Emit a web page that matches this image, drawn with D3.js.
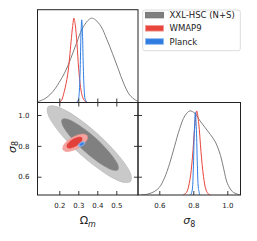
<!DOCTYPE html>
<html>
<head>
<meta charset="utf-8">
<script src="https://cdn.jsdelivr.net/npm/d3@7"></script>
<style>
  body { margin: 0; background: #fff; }
  text { font-family: "DejaVu Sans", sans-serif; fill: #222; }
</style>
</head>
<body>
<div id="chart"></div>
<script>
// 1D marginal posteriors (peak normalised to 1)
var omGray = [[0.086,0.01],[0.12,0.04],[0.15,0.09],[0.18,0.17],[0.2,0.24],[0.23,0.36],[0.26,0.52],[0.29,0.7],[0.32,0.87],[0.35,0.97],[0.37,1.0],[0.39,0.98],[0.42,0.9],[0.45,0.75],[0.48,0.58],[0.51,0.4],[0.54,0.22],[0.57,0.09],[0.6,0.03],[0.614,0.015]];
var omRed = [[0.195,0],[0.21,0.02],[0.226,0.13],[0.244,0.33],[0.262,0.72],[0.27,0.9],[0.277,1.0],[0.284,0.92],[0.293,0.7],[0.302,0.4],[0.312,0.18],[0.322,0.07],[0.335,0.015],[0.35,0]];
var omBlue = [[0.29,0],[0.3,0.03],[0.305,0.12],[0.31,0.4],[0.314,0.8],[0.318,0.98],[0.322,0.82],[0.326,0.45],[0.331,0.15],[0.336,0.04],[0.345,0]];

var s8Gray = [[0.49,0],[0.53,0.01],[0.57,0.04],[0.6,0.09],[0.63,0.2],[0.66,0.37],[0.69,0.58],[0.72,0.79],[0.75,0.94],[0.78,1.0],[0.81,0.97],[0.84,0.88],[0.87,0.8],[0.9,0.72],[0.93,0.63],[0.96,0.47],[0.98,0.3],[1.0,0.14],[1.03,0.04],[1.06,0.01],[1.075,0]];
var s8Red = [[0.74,0],[0.76,0.03],[0.78,0.18],[0.795,0.45],[0.808,0.8],[0.82,1.0],[0.832,0.85],[0.845,0.52],[0.86,0.22],[0.875,0.06],[0.89,0.01],[0.9,0]];
var s8Blue = [[0.785,0],[0.793,0.05],[0.8,0.3],[0.806,0.75],[0.812,0.98],[0.818,0.78],[0.824,0.35],[0.83,0.08],[0.838,0]];

// 2D contours (Omega_m, sigma_8) boundary points
var grayOuter = [[0.575,0.569],[0.541,0.563],[0.478,0.594],[0.398,0.659],[0.311,0.746],[0.231,0.844],[0.171,0.936],[0.139,1.009],[0.140,1.052],[0.175,1.058],[0.237,1.027],[0.318,0.962],[0.404,0.875],[0.484,0.777],[0.545,0.685],[0.577,0.612]];
var grayInner = [[0.508,0.645],[0.486,0.642],[0.444,0.664],[0.390,0.708],[0.332,0.767],[0.278,0.832],[0.237,0.894],[0.215,0.943],[0.215,0.971],[0.238,0.974],[0.279,0.952],[0.333,0.908],[0.392,0.849],[0.445,0.783],[0.486,0.722],[0.509,0.673]];
var redOuter = [[0.347,0.866],[0.347,0.843],[0.329,0.814],[0.299,0.786],[0.265,0.768],[0.236,0.764],[0.220,0.775],[0.221,0.798],[0.238,0.827],[0.268,0.854],[0.302,0.872],[0.331,0.876]];
var redInner = [[0.319,0.851],[0.319,0.837],[0.308,0.819],[0.290,0.801],[0.269,0.789],[0.251,0.785],[0.241,0.791],[0.241,0.805],[0.252,0.823],[0.270,0.841],[0.291,0.853],[0.309,0.857]];
var blueOuter = [[0.335,0.823],[0.333,0.812],[0.322,0.800],[0.308,0.794],[0.300,0.798],[0.301,0.809],[0.312,0.821],[0.326,0.827]];
var blueInner = [[0.328,0.818],[0.327,0.812],[0.321,0.805],[0.313,0.802],[0.308,0.804],[0.309,0.810],[0.315,0.817],[0.323,0.820]];

var omTicks = [0.2, 0.3, 0.4, 0.5];
var s8Ticks = [0.6, 0.8, 1.0];
var legendNames = ["XXL-HSC (N+S)", "WMAP9", "Planck"];

var gray = "#7f7f7f", red = "#e8453c", blue = "#2f7de3";
var legendColors = [gray, red, blue];
var legendEdges = ["#6a6a6a", "#f29a94", "#8db8f0"];

var svg = d3.select("#chart").append("svg")
  .attr("width", 257)
  .attr("height", 241);

// panel edges
var x0 = 37.5, x1 = 138, x2 = 240.5;
var y0 = 9.7, y1 = 102.5, y2 = 195;

var xOm = d3.scaleLinear().domain([0.0853, 0.6142]).range([x0, x1]);
var yS8 = d3.scaleLinear().domain([0.4814, 1.081]).range([y2, y1]);
var xS8 = d3.scaleLinear().domain([0.4747, 1.0776]).range([x1, x2]);
var yTop = d3.scaleLinear().domain([0, 1.1]).range([y1, y0]);
var yBR = d3.scaleLinear().domain([0, 1.1]).range([y2, y1]);

var clipIds = ["clipTL", "clipBL", "clipBR"];
var clipBoxes = [[x0, y0, x1 - x0, y1 - y0], [x0, y1, x1 - x0, y2 - y1], [x1, y1, x2 - x1, y2 - y1]];
var defs = svg.append("defs");
clipIds.forEach(function(id, i) {
  defs.append("clipPath").attr("id", id).append("rect")
    .attr("x", clipBoxes[i][0]).attr("y", clipBoxes[i][1])
    .attr("width", clipBoxes[i][2]).attr("height", clipBoxes[i][3]);
});

// top-left: Omega_m marginal
var lineTL = d3.line().x(d => xOm(d[0])).y(d => yTop(d[1])).curve(d3.curveCatmullRom.alpha(0.5));
var gTL = svg.append("g").attr("clip-path", "url(#clipTL)");
[[omGray, gray], [omRed, red], [omBlue, blue]].forEach(function(s) {
  gTL.append("path").attr("d", lineTL(s[0]))
    .attr("fill", "none").attr("stroke", s[1]).attr("stroke-width", 1);
});

// bottom-left: 2D contours
var contour = d3.line().x(d => xOm(d[0])).y(d => yS8(d[1])).curve(d3.curveCatmullRomClosed);
var gBL = svg.append("g").attr("clip-path", "url(#clipBL)");
[[grayOuter, "#c9c9c9", "#b3b3b3"], [grayInner, "#808080", "#808080"],
 [redOuter, "#f3a4a0", "#f08e88"], [redInner, "#e2403a", "#e2403a"],
 [blueOuter, "#94bbef", "#7eaaea"], [blueInner, "#3b7fe0", "#3b7fe0"]].forEach(function(c) {
  gBL.append("path").attr("d", contour(c[0]))
    .attr("fill", c[1]).attr("stroke", c[2]).attr("stroke-width", 0.6);
});

// bottom-right: sigma_8 marginal
var lineBR = d3.line().x(d => xS8(d[0])).y(d => yBR(d[1])).curve(d3.curveCatmullRom.alpha(0.5));
var gBR = svg.append("g").attr("clip-path", "url(#clipBR)");
[[s8Gray, gray], [s8Red, red], [s8Blue, blue]].forEach(function(s) {
  gBR.append("path").attr("d", lineBR(s[0]))
    .attr("fill", "none").attr("stroke", s[1]).attr("stroke-width", 1);
});

// axes, ticks pointing inward
function ticksIn(axis) { return axis.tickSizeInner(-4).tickSizeOuter(0); }

svg.append("g").attr("transform", `translate(0,${y1})`)
  .call(ticksIn(d3.axisBottom(xOm).tickValues(omTicks).tickFormat("")));
svg.append("g").attr("transform", `translate(0,${y1})`)
  .call(ticksIn(d3.axisTop(xOm).tickValues(omTicks).tickFormat("")));
svg.append("g").attr("transform", `translate(0,${y2})`)
  .call(ticksIn(d3.axisBottom(xOm).tickValues(omTicks).tickFormat(d3.format(".1f")).tickPadding(8)));
svg.append("g").attr("transform", `translate(${x0},0)`)
  .call(ticksIn(d3.axisLeft(yS8).tickValues(s8Ticks).tickFormat(d3.format(".1f")).tickPadding(8)));
svg.append("g").attr("transform", `translate(${x1},0)`)
  .call(ticksIn(d3.axisRight(yS8).tickValues(s8Ticks).tickFormat("")));
svg.append("g").attr("transform", `translate(${x1},0)`)
  .call(ticksIn(d3.axisLeft(yS8).tickValues(s8Ticks).tickFormat("")));
svg.append("g").attr("transform", `translate(0,${y2})`)
  .call(ticksIn(d3.axisBottom(xS8).tickValues(s8Ticks).tickFormat(d3.format(".1f")).tickPadding(8)));

svg.selectAll(".tick line").attr("stroke", "#222").attr("stroke-width", 0.9);
svg.selectAll(".domain").remove();
svg.selectAll(".tick text").attr("font-size", 7).attr("font-family", "DejaVu Sans").attr("fill", "#222");

// panel frames
clipBoxes.forEach(function(b) {
  svg.append("rect").attr("x", b[0]).attr("y", b[1]).attr("width", b[2]).attr("height", b[3])
    .attr("fill", "none").attr("stroke", "#222").attr("stroke-width", 1);
});

// axis labels
var lab1 = svg.append("text").attr("x", (x0 + x1) / 2).attr("y", 224)
  .attr("text-anchor", "middle").attr("font-size", 11);
lab1.append("tspan").text("Ω");
lab1.append("tspan").attr("font-size", 8).attr("font-style", "italic").attr("dy", 2.5).text("m");

var lab2 = svg.append("text").attr("x", (x1 + x2) / 2).attr("y", 224)
  .attr("text-anchor", "middle").attr("font-size", 11);
lab2.append("tspan").attr("font-style", "italic").text("σ");
lab2.append("tspan").attr("font-size", 8).attr("dy", 2.5).text("8");

var lab3 = svg.append("text").attr("transform", "translate(15.5,147) rotate(-90)")
  .attr("text-anchor", "middle").attr("font-size", 11);
lab3.append("tspan").attr("font-style", "italic").text("σ");
lab3.append("tspan").attr("font-size", 8).attr("dy", 2.5).text("8");

// legend
var leg = svg.append("g");
leg.append("rect").attr("x", 142.7).attr("y", 10).attr("width", 97.6).attr("height", 40.7)
  .attr("rx", 2).attr("fill", "#fff").attr("fill-opacity", 0.85)
  .attr("stroke", "#d3d3d3").attr("stroke-width", 0.8);
legendNames.forEach(function(name, i) {
  var y = 12.3 + i * 13.2;
  leg.append("rect").attr("x", 145.5).attr("y", y).attr("width", 18).attr("height", 5.6)
    .attr("fill", legendColors[i]).attr("stroke", legendEdges[i]).attr("stroke-width", 0.8);
  leg.append("text").attr("x", 169.5).attr("y", y + 5.9).attr("font-size", 8.5).text(name);
});
</script>
</body>
</html>
